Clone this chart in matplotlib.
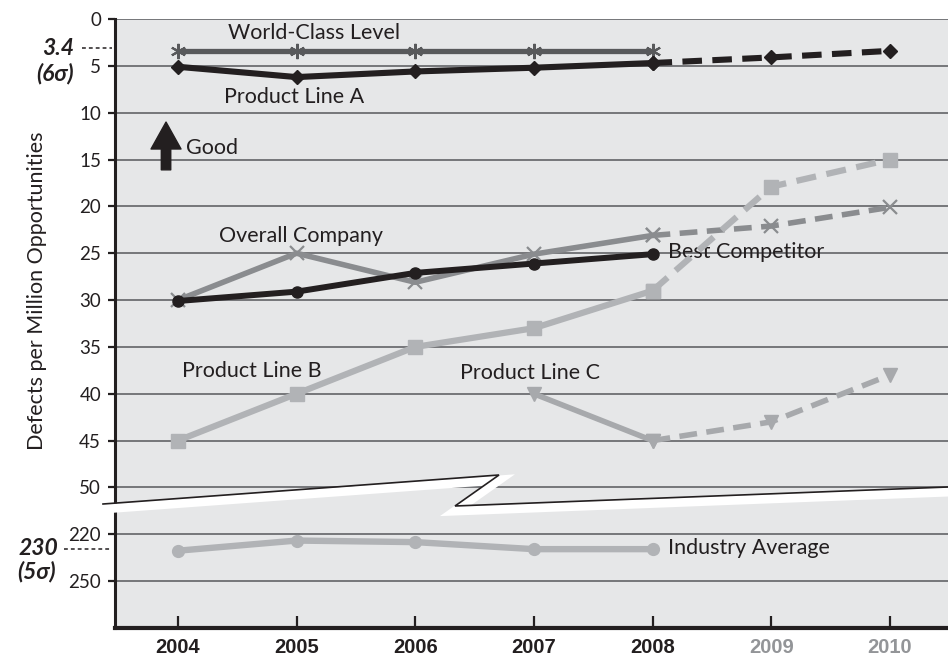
import numpy as np
import matplotlib
matplotlib.use("Agg")
from matplotlib import pyplot as plt
from matplotlib import transforms
from matplotlib.lines import Line2D

plt.rcParams['font.family'] = ['Lato', 'DejaVu Sans']

# data (defects per million opportunities)
years = [2004, 2005, 2006, 2007, 2008, 2009, 2010]
year_labels = ['2004', '2005', '2006', '2007', '2008', '2009', '2010']

world_class_years = [2004, 2005, 2006, 2007, 2008]
world_class = [3.4, 3.4, 3.4, 3.4, 3.4]

line_a_years = [2004, 2005, 2006, 2007, 2008]
line_a = [5.1, 6.2, 5.6, 5.2, 4.7]
line_a_proj_years = [2008, 2009, 2010]
line_a_proj = [4.7, 4.1, 3.4]

overall_years = [2004, 2005, 2006, 2007, 2008]
overall = [30.0, 25.0, 28.1, 25.1, 23.1]
overall_proj_years = [2008, 2009, 2010]
overall_proj = [23.1, 22.1, 20.1]

best_comp_years = [2004, 2005, 2006, 2007, 2008]
best_comp = [30.1, 29.1, 27.1, 26.1, 25.1]

line_b_years = [2004, 2005, 2006, 2007, 2008]
line_b = [45.0, 40.0, 35.0, 33.0, 29.0]
line_b_proj_years = [2008, 2009, 2010]
line_b_proj = [29.0, 17.9, 15.0]

line_c_years = [2007, 2008]
line_c = [40.0, 45.0]
line_c_proj_years = [2008, 2009, 2010]
line_c_proj = [45.0, 43.0, 38.0]

industry_years = [2004, 2005, 2006, 2007, 2008]
industry = [230.5, 224.0, 225.0, 229.5, 229.5]

ytick_vals = [0, 5, 10, 15, 20, 25, 30, 35, 40, 45, 50, 220, 250]


# broken axis: 0-50 on top, 220-250 below
def fwd(v):
    v = np.asarray(v, dtype=float)
    return np.where(v <= 50, v / 5.0,
                    np.where(v < 220, 10 + (v - 50) / 170.0, 11 + (v - 220) / 30.0))


def inv(p):
    p = np.asarray(p, dtype=float)
    return np.where(p <= 10, p * 5.0,
                    np.where(p < 11, 50 + (p - 10) * 170.0, 220 + (p - 11) * 30.0))


W, H = 948, 657
fig = plt.figure(figsize=(W / 100, H / 100), dpi=100)
ax = fig.add_axes([115 / W, 29 / H, 833 / W, 609 / H])
ax.set_facecolor('#e6e7e8')
ax.set_yscale('function', functions=(fwd, inv))
ax.set_ylim(280, 0)
ax.set_xlim(2003.47, 2010.49)

ax.set_yticks(ytick_vals)
ax.set_yticklabels([str(v) for v in ytick_vals])
ax.yaxis.grid(True, color='#6d6e71', lw=1.3)
ax.set_axisbelow(True)

ax.set_xticks(years)
ax.set_xticklabels(year_labels)
for i, t in enumerate(ax.get_xticklabels()):
    t.set_color('#231f20' if i < 5 else '#939598')
    t.set_fontweight('bold')
    t.set_family(['Liberation Sans', 'DejaVu Sans'])
    t.set_fontsize(14.5)

ax.tick_params(axis='x', direction='in', length=9, width=1.6, color='#231f20', pad=7)
ax.tick_params(axis='y', direction='out', length=5, width=1.6, color='#231f20',
               labelsize=13.5, labelcolor='#231f20', pad=5)

for s in ['top', 'right']:
    ax.spines[s].set_visible(False)
ax.spines['left'].set_linewidth(2.2)
ax.spines['left'].set_color('#231f20')
ax.spines['bottom'].set_linewidth(3)
ax.spines['bottom'].set_color('#231f20')

dash = (0, (3.2, 1.7))

# series
ax.plot(overall_years, overall, color='#8a8c8f', lw=4, marker='x', ms=10, mew=1.6, zorder=3)
ax.plot(overall_proj_years, overall_proj, color='#8a8c8f', lw=4, ls=dash, marker='x', ms=10, mew=1.6, zorder=3)

ax.plot(line_b_years, line_b, color='#b1b3b6', lw=4.5, marker='s', ms=9.5, zorder=3)
ax.plot(line_b_proj_years, line_b_proj, color='#b1b3b6', lw=4.5, ls=dash, marker='s', ms=9.5, zorder=4)

ax.plot(line_c_years, line_c, color='#a7a9ac', lw=4, marker='v', ms=10, zorder=3)
ax.plot(line_c_proj_years, line_c_proj, color='#a7a9ac', lw=4, ls=dash, marker='v', ms=10, zorder=3)

ax.plot(best_comp_years, best_comp, color='#231f20', lw=4.3, marker='o', ms=8, zorder=5)

ax.plot(world_class_years, world_class, color='#58595b', lw=3.8, marker=(6, 2, 0), ms=11, mew=1.5, zorder=5)

ax.plot(line_a_years, line_a, color='#231f20', lw=4.4, marker='D', ms=7, zorder=6)
ax.plot(line_a_proj_years, line_a_proj, color='#231f20', lw=4.4, ls=dash, marker='D', ms=7, zorder=6)

ax.plot(industry_years, industry, color='#b1b3b6', lw=4.6, marker='o', ms=8.5, zorder=3)

# labels
lab = dict(fontsize=15.5, color='#231f20', va='center')
ax.text(2005.15, 1.5, 'World-Class Level', ha='center', **lab)
ax.text(2004.98, 8.3, 'Product Line A', ha='center', **lab)
ax.text(2004.07, 13.8, 'Good', ha='left', **lab)
ax.text(2005.04, 23.2, 'Overall Company', ha='center', **lab)
ax.text(2008.13, 24.9, 'Best Competitor', ha='left', **lab)
ax.text(2004.62, 37.6, 'Product Line B', ha='center', **lab)
ax.text(2006.97, 37.8, 'Product Line C', ha='center', **lab)
ax.text(2008.13, 228.5, 'Industry Average', ha='left', **lab)

ax.annotate('', xy=(2003.9, 11.0), xytext=(2003.9, 16.1),
            arrowprops=dict(arrowstyle='simple,head_length=0.97,head_width=1.08,tail_width=0.34',
                            color='#231f20', shrinkA=0, shrinkB=0, mutation_scale=20))

ax.set_ylabel('Defects per Million Opportunities', fontsize=15.5, color='#231f20')
ax.yaxis.set_label_coords(-0.082, 0.553)

# sigma marks in the left margin
tr = transforms.blended_transform_factory(fig.transFigure, ax.transData)
mark = dict(fontsize=16.5, fontweight='bold', fontstyle='italic', color='#231f20',
            ha='right', va='center', transform=tr)
ax.text(74 / W, 3.1, '3.4', **mark)
ax.text(74 / W, 5.8, '(6σ)', **mark)
ax.text(58 / W, 229.3, '230', **mark)
ax.text(56 / W, 244, '(5σ)', **mark)
ax.add_line(Line2D([82 / W, 112 / W], [3.1, 3.1], transform=tr, color='#231f20',
                   lw=1.1, ls=(0, (2.5, 2)), clip_on=False))
ax.add_line(Line2D([64 / W, 112 / W], [229.6, 229.6], transform=tr, color='#231f20',
                   lw=1.1, ls=(0, (2.5, 2)), clip_on=False))

# axis break zigzag
bx = [103, 499, 455, 948]
by = [504, 475, 506, 487]
fig.add_artist(Line2D([x / W for x in bx], [1 - (y + 5) / H for y in by], transform=fig.transFigure,
                      color='white', lw=6.5, solid_joinstyle='miter'))
fig.add_artist(Line2D([x / W for x in bx], [1 - y / H for y in by], transform=fig.transFigure,
                      color='#231f20', lw=1.2, solid_joinstyle='miter'))

fig.savefig('out.png', dpi=100)
